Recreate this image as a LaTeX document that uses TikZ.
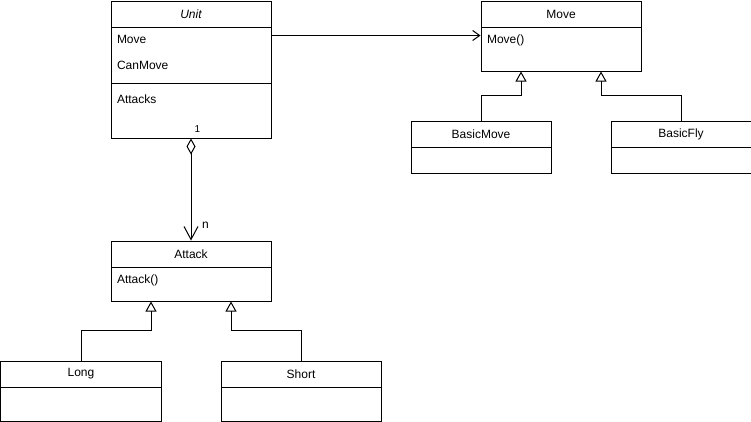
\documentclass[tikz,border=0pt]{standalone}
\usepackage{fontspec}
\setmainfont{Liberation Sans}
\usetikzlibrary{arrows.meta}
\begin{document}
\begin{tikzpicture}[x=1pt,y=-1pt,line width=1pt,
        font=\fontsize{12}{14}\selectfont,
        box/.style={draw,inner sep=0pt,anchor=north west},
        member/.style={anchor=west,inner sep=0pt},
        inherit/.style={-{Triangle[open,length=10pt,width=11pt]}},
        uses/.style={-{Straight Barb[length=7pt,width=10pt]}},
        aggr/.style={{Diamond[open,length=16pt,width=9pt]}-{Straight Barb[length=13pt,width=14pt]}}]
        \useasboundingbox (-0.5,-0.5) rectangle (750.5,420.5);
        % Unit
        \node[box,minimum width=160,minimum height=26] (unithead) at (110,0) {\itshape Unit};
        \node[box,minimum width=160,minimum height=56] (unitattr) at (110,26) {};
        \node[box,minimum width=160,minimum height=55] (unitops)  at (110,82) {};
        \node[member] (unitmove)    at (116,39) {Move};
        \node[member] (unitcanmove) at (116,65) {CanMove};
        \node[member] (unitattacks) at (116,99) {Attacks};
        % Move
        \node[box,minimum width=160,minimum height=26] (movehead) at (480,0) {Move};
        \node[box,minimum width=160,minimum height=44] (moveops)  at (480,26) {};
        \node[member] (movemove) at (486,40) {Move()};
        \node[box,minimum width=140,minimum height=26] (bmovehead) at (410,120) {BasicMove};
        \node[box,minimum width=140,minimum height=26] (bmovebody) at (410,146) {};
        \node[box,minimum width=140,minimum height=26] (bflyhead)  at (610,120) {BasicFly};
        \node[box,minimum width=140,minimum height=26] (bflybody)  at (610,146) {};
        % Attack
        \node[box,minimum width=160,minimum height=26] (attackhead) at (110,240) {Attack};
        \node[box,minimum width=160,minimum height=34] (attackops)  at (110,266) {};
        \node[member] (attackattack) at (116,280) {Attack()};
        \node[box,minimum width=160,minimum height=26] (longhead)  at (0,360) {Long};
        \node[box,minimum width=160,minimum height=34] (longbody)  at (0,386) {};
        \node[box,minimum width=160,minimum height=26] (shorthead) at (220,360) {Short};
        \node[box,minimum width=160,minimum height=34] (shortbody) at (220,386) {};
        % connectors
        \draw[uses]    ([yshift=-9pt]unitattr.north east) -- ([yshift=-9pt]moveops.north west);
        \draw[aggr]    (unitops.south) -- (attackhead.north);
        \node (mult1) at (197,129) {\fontsize{10}{12}\selectfont 1};
        \node (multn) at (205,225) {n};
        \draw[inherit] (bmovehead.north) -- ++(0,-25) -| ([xshift=-40pt]moveops.south);
        \draw[inherit] (bflyhead.north) -- ++(0,-25) -| ([xshift=40pt]moveops.south);
        \draw[inherit] (longhead.north) -- ++(0,-30) -| ([xshift=-40pt]attackops.south);
        \draw[inherit] (shorthead.north) -- ++(0,-30) -| ([xshift=40pt]attackops.south);
\end{tikzpicture}
\end{document}
